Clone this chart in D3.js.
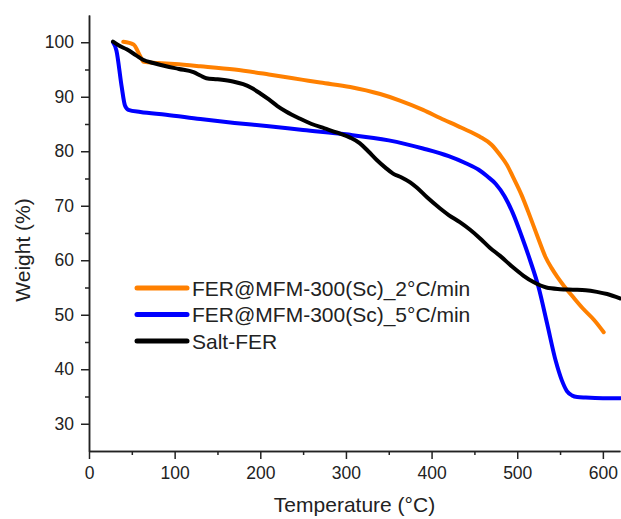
<!DOCTYPE html>
<html>
<head>
<meta charset="utf-8">
<script src="https://cdn.jsdelivr.net/npm/d3@7"></script>
<style>
  body { margin: 0; background: #fff; }
  svg { font-family: "Liberation Sans", Arial, sans-serif; }
  .axis path, .axis line { stroke: #222; stroke-width: 1.5; }
  .axis text { font-size: 17.5px; fill: #222; font-family: "Liberation Sans", Arial, sans-serif; }
</style>
</head>
<body>
<div id="chart"></div>
<script>
// series names and colours
const seriesNames = ["FER@MFM-300(Sc)_2°C/min", "FER@MFM-300(Sc)_5°C/min", "Salt-FER"];
const seriesColors = ["#ff8000", "#0000ff", "#000000"];

// FER@MFM-300(Sc) 2°C/min
const orangeT = [40, 52, 60, 64, 80, 100, 130, 170, 210, 250, 270, 305, 340, 363, 390, 410, 435, 456, 470, 480, 488, 495, 505, 515, 525, 533, 540, 547, 555, 565, 577, 590, 601];
const orangeW = [100.1, 99.6, 97.4, 96.4, 96.2, 96.0, 95.6, 95.0, 94.1, 93.1, 92.6, 91.8, 90.5, 89.3, 87.6, 86.1, 84.3, 82.7, 81.2, 79.3, 77.5, 75.3, 72.0, 68.0, 63.8, 60.6, 58.6, 56.9, 55.2, 53.3, 51.1, 49.0, 46.8];

// FER@MFM-300(Sc) 5°C/min
const blueT = [28, 32, 38, 42, 46, 60, 90, 130, 170, 210, 250, 300, 350, 390, 420, 440, 455, 465, 475, 485, 495, 505, 515, 525, 535, 545, 552, 558, 564, 570, 580, 600, 620];
const blueW = [100, 98.5, 92, 88.4, 87.6, 87.2, 86.7, 85.9, 85.2, 84.6, 83.9, 83.1, 82.0, 80.5, 79.1, 77.8, 76.6, 75.4, 74.0, 71.8, 68.6, 64.5, 60.0, 55.0, 48.3, 41.5, 38.0, 36.0, 35.2, 34.9, 34.8, 34.7, 34.7];

// Salt-FER
const blackT = [28, 36, 44, 55, 63, 75, 90, 105, 122, 130, 137, 150, 168, 180, 190, 200, 210, 220, 230, 246, 260, 275, 290, 305, 316, 326, 336, 346, 355, 365, 375, 383, 395, 410, 420, 433, 445, 456, 468, 480, 495, 507, 519, 534, 550, 565, 580, 593, 605, 620];
const blackW = [100.1, 99.3, 98.7, 97.6, 96.8, 96.2, 95.6, 95.1, 94.5, 93.9, 93.4, 93.2, 92.8, 92.3, 91.6, 90.6, 89.5, 88.3, 87.3, 86.0, 85.0, 84.2, 83.4, 82.5, 81.5, 80.0, 78.4, 77.0, 75.9, 75.2, 74.3, 73.3, 71.5, 69.5, 68.3, 67.0, 65.6, 64.1, 62.3, 60.8, 58.7, 57.2, 56.0, 55.0, 54.7, 54.6, 54.5, 54.2, 53.8, 53.0];

// ticks
const xTicks = [0, 100, 200, 300, 400, 500, 600];
const xMinor = [50, 150, 250, 350, 450, 550];
const yTicks = [30, 40, 50, 60, 70, 80, 90, 100];
const yMinor = [35, 45, 55, 65, 75, 85, 95];

let width = 621, height = 519;
let margin = {left: 89, right: 620, top: 15, bottom: 451};

let svg = d3.select("#chart").append("svg")
    .attr("width", width)
    .attr("height", height);

let x = d3.scaleLinear().domain([0, 620]).range([margin.left, margin.right]);
let y = d3.scaleLinear().domain([25, 105]).range([margin.bottom, margin.top]);

// minor ticks first, then major axes
svg.append("g")
    .attr("class", "axis")
    .attr("transform", "translate(0," + margin.bottom + ")")
    .call(d3.axisBottom(x).tickValues(xMinor).tickSize(4).tickSizeOuter(0).tickFormat(""));
svg.append("g")
    .attr("class", "axis")
    .attr("transform", "translate(" + margin.left + ",0)")
    .call(d3.axisLeft(y).tickValues(yMinor).tickSize(4).tickSizeOuter(0).tickFormat(""));

svg.append("g")
    .attr("class", "axis")
    .attr("transform", "translate(0," + margin.bottom + ")")
    .call(d3.axisBottom(x).tickValues(xTicks).tickSize(8).tickSizeOuter(0).tickPadding(8));
svg.append("g")
    .attr("class", "axis")
    .attr("transform", "translate(" + margin.left + ",0)")
    .call(d3.axisLeft(y).tickValues(yTicks).tickSize(8).tickSizeOuter(0).tickPadding(7));

// axis titles
svg.append("text")
    .attr("x", (margin.left + margin.right) / 2)
    .attr("y", 512)
    .attr("text-anchor", "middle")
    .attr("font-size", 21)
    .attr("fill", "#222")
    .text("Temperature (°C)");

svg.append("text")
    .attr("transform", "translate(30,250) rotate(-90)")
    .attr("text-anchor", "middle")
    .attr("font-size", 21)
    .attr("fill", "#222")
    .text("Weight (%)");

// curves
let series = [
    {T: orangeT, W: orangeW},
    {T: blueT, W: blueW},
    {T: blackT, W: blackW}
];

let line = d3.line()
    .x(function(d) { return x(d[0]); })
    .y(function(d) { return y(d[1]); })
    .curve(d3.curveMonotoneX);

series.forEach(function(s, i) {
    let pts = s.T.map(function(t, j) { return [t, s.W[j]]; });
    svg.append("path")
        .datum(pts)
        .attr("fill", "none")
        .attr("stroke", seriesColors[i])
        .attr("stroke-width", 4)
        .attr("stroke-linejoin", "round")
        .attr("stroke-linecap", "round")
        .attr("d", line);
});

// legend
let legend = svg.append("g")
    .selectAll("g")
    .data(seriesNames)
    .enter().append("g")
    .attr("transform", function(d, i) { return "translate(137," + (288 + i * 26.5) + ")"; });

legend.append("line")
    .attr("x1", 0)
    .attr("x2", 50)
    .attr("stroke", function(d, i) { return seriesColors[i]; })
    .attr("stroke-width", 5)
    .attr("stroke-linecap", "round");

legend.append("text")
    .attr("x", 55)
    .attr("dy", "0.36em")
    .attr("font-size", 21)
    .attr("fill", "#222")
    .text(function(d) { return d; });
</script>
</body>
</html>
